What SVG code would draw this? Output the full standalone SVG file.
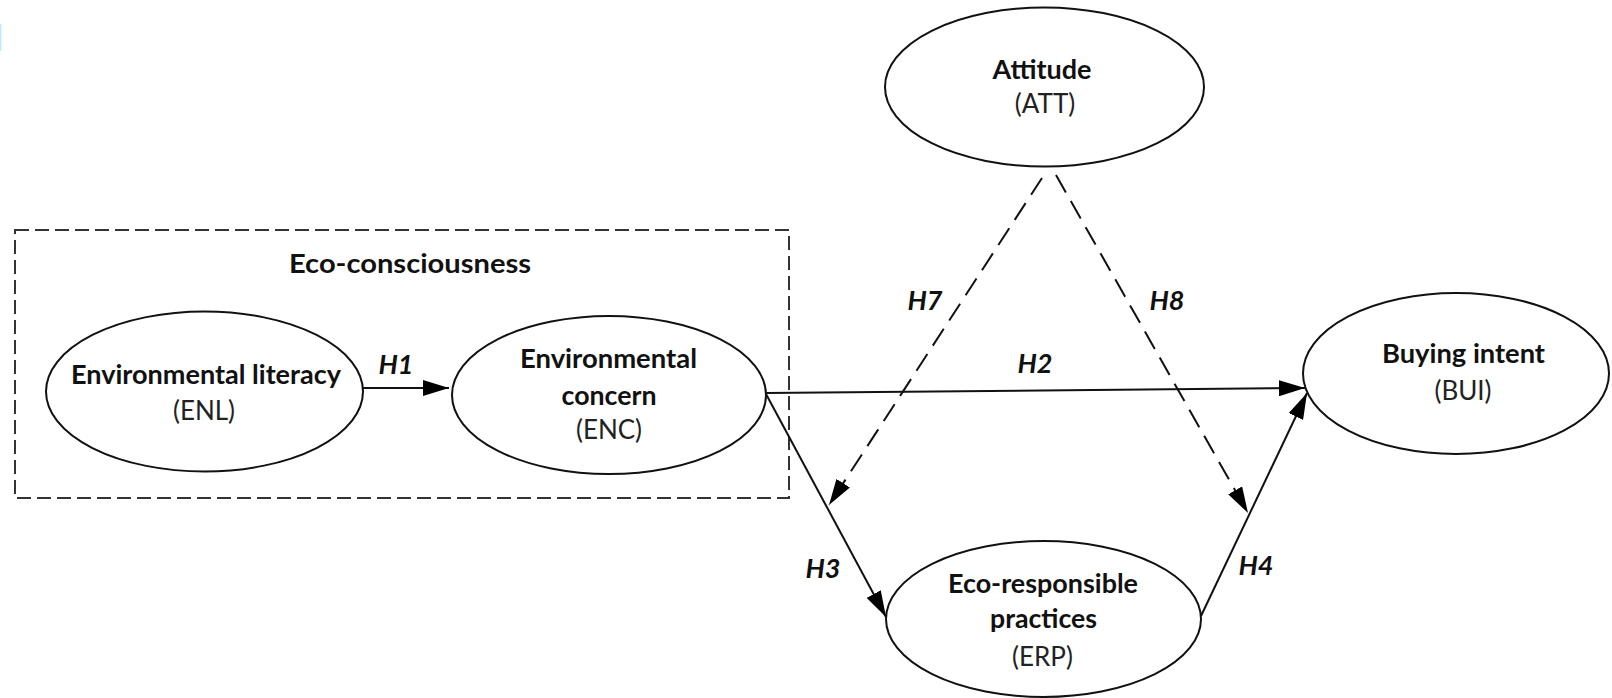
<svg xmlns="http://www.w3.org/2000/svg" width="1612" height="698" viewBox="0 0 1612 698">
<style>
.node{fill:#fff;stroke:#111;stroke-width:2}
.t{font-family:Lato,"Liberation Sans",sans-serif;font-size:27px;font-weight:bold;fill:#111;text-anchor:middle}
.r{font-family:Lato,"Liberation Sans",sans-serif;font-size:26px;fill:#222;text-anchor:middle}
.h{font-family:Lato,"Liberation Sans",sans-serif;font-size:27px;font-weight:bold;font-style:italic;fill:#111;text-anchor:middle}
.c{fill:none;stroke:#111;stroke-width:2}
.d{stroke-dasharray:20 10}
</style>
<defs>
<marker id="arr" markerUnits="userSpaceOnUse" markerWidth="26" markerHeight="16" refX="26" refY="8" orient="auto">
<path d="M0,0 L26,8 L0,16 z" fill="#000"/>
</marker>
</defs>
<rect x="0" y="24" width="1.5" height="27" fill="#c4e7fb"/>
<g id="eco-consciousness">
<rect x="15" y="230" width="774" height="268" fill="none" stroke="#333" stroke-width="2" stroke-dasharray="14 6"/>
<text class="t" x="410" y="273" textLength="242" lengthAdjust="spacingAndGlyphs">Eco-consciousness</text>
</g>
<g id="connectors">
<line class="c" x1="363" y1="388" x2="449" y2="388" marker-end="url(#arr)"/>
<line class="c" x1="766" y1="393" x2="1305" y2="388" marker-end="url(#arr)"/>
<line class="c" x1="766" y1="394" x2="886" y2="617" marker-end="url(#arr)"/>
<line class="c" x1="1201" y1="616" x2="1307" y2="393" marker-end="url(#arr)"/>
<line class="c d" x1="1042" y1="178" x2="829" y2="505" marker-end="url(#arr)"/>
<line class="c d" x1="1056" y1="175" x2="1248" y2="513" marker-end="url(#arr)"/>
<text class="h" x="396" y="374">H1</text>
<text class="h" x="1035" y="373">H2</text>
<text class="h" x="823" y="578">H3</text>
<text class="h" x="1256" y="575">H4</text>
<text class="h" x="925" y="310">H7</text>
<text class="h" x="1167" y="310">H8</text>
</g>
<g id="ENL">
<ellipse class="node" cx="204.5" cy="391.5" rx="158.5" ry="80"/>
<text class="t" x="206" y="384" textLength="270" lengthAdjust="spacingAndGlyphs">Environmental literacy</text>
<text class="r" x="204" y="420">(ENL)</text>
</g>
<g id="ENC">
<ellipse class="node" cx="609" cy="395" rx="157" ry="79"/>
<text class="t" x="608.5" y="368" textLength="177" lengthAdjust="spacingAndGlyphs">Environmental</text>
<text class="t" x="609" y="404.5" textLength="95" lengthAdjust="spacingAndGlyphs">concern</text>
<text class="r" x="609" y="439">(ENC)</text>
</g>
<g id="ATT">
<ellipse class="node" cx="1044.5" cy="87" rx="159.5" ry="79.5"/>
<text class="t" x="1042" y="79" textLength="99" lengthAdjust="spacingAndGlyphs">Attitude</text>
<text class="r" x="1045" y="113">(ATT)</text>
</g>
<g id="BUI">
<ellipse class="node" cx="1456" cy="373.5" rx="153" ry="80.5"/>
<text class="t" x="1463.5" y="363" textLength="163" lengthAdjust="spacingAndGlyphs">Buying intent</text>
<text class="r" x="1463" y="400">(BUI)</text>
</g>
<g id="ERP">
<ellipse class="node" cx="1043.5" cy="619" rx="157.5" ry="78"/>
<text class="t" x="1043" y="593" textLength="190" lengthAdjust="spacingAndGlyphs">Eco-responsible</text>
<text class="t" x="1043.5" y="628" textLength="107" lengthAdjust="spacingAndGlyphs">practices</text>
<text class="r" x="1042.5" y="666">(ERP)</text>
</g>
</svg>
